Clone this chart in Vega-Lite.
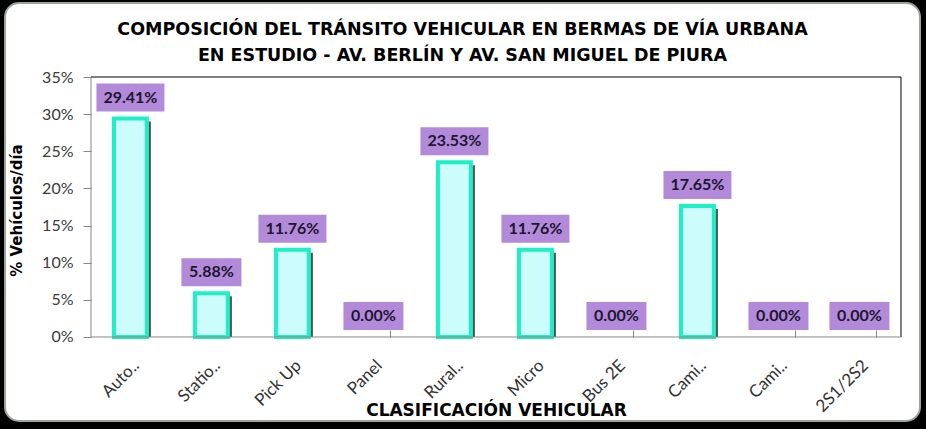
{
  "$schema": "https://vega.github.io/schema/vega-lite/v6.json",
  "width": 915,
  "height": 418,
  "autosize": {"type": "none"},
  "padding": {"left": 5, "top": 3, "right": 6, "bottom": 8},
  "background": "#000000",
  "config": {
    "view": {"fill": "#ffffff", "stroke": "#9ba39b", "strokeWidth": 2, "cornerRadius": 14},
    "font": "Lato"
  },
  "title": {
    "text": [
      "COMPOSICIÓN DEL TRÁNSITO VEHICULAR EN BERMAS DE VÍA URBANA",
      "EN ESTUDIO - AV. BERLÍN Y AV. SAN MIGUEL DE PIURA"
    ],
    "font": "DejaVu Sans",
    "fontSize": 17.5,
    "fontWeight": "bold",
    "color": "#000000",
    "lineHeight": 26,
    "anchor": "middle",
    "baseline": "top",
    "offset": -61
  },
  "data": {
    "values": [
      {"clase": "Automóvil", "pct": 0.2941},
      {"clase": "Station Wagon", "pct": 0.0588},
      {"clase": "Pick Up", "pct": 0.1176},
      {"clase": "Panel", "pct": 0},
      {"clase": "Rural Combi", "pct": 0.2353},
      {"clase": "Micro", "pct": 0.1176},
      {"clase": "Bus 2E", "pct": 0},
      {"clase": "Camión 2E", "pct": 0.1765},
      {"clase": "Camión 3E", "pct": 0},
      {"clase": "2S1/2S2", "pct": 0}
    ]
  },
  "layer": [
    {
      "encoding": {
        "x": {
          "field": "clase",
          "type": "nominal",
          "sort": null,
          "scale": {
            "domain": ["Automóvil", "Station Wagon", "Pick Up", "Panel", "Rural Combi", "Micro", "Bus 2E", "Camión 2E", "Camión 3E", "2S1/2S2"],
            "paddingInner": 0.593,
            "paddingOuter": 0.9445,
            "align": 0.712
          },
          "axis": {
            "offset": -84,
            "domain": false,
            "tickBand": "extent",
            "tickSize": -7,
            "tickColor": "#868686",
            "labelAngle": -45,
            "labelAlign": "right",
            "labelBaseline": "top",
            "labelPadding": 27,
            "labelFont": "Lato",
            "labelFontSize": 17,
            "labelColor": "#333333",
            "labelExpr": "datum.label == 'Automóvil' ? 'Auto..' : datum.label == 'Station Wagon' ? 'Statio..' : datum.label == 'Rural Combi' ? 'Rural..' : indexof(datum.label, 'Camión') == 0 ? 'Cami..' : datum.label",
            "title": "CLASIFICACIÓN VEHICULAR",
            "titleFont": "DejaVu Sans",
            "titleFontSize": 17,
            "titleFontWeight": "bold",
            "titleColor": "#000000",
            "titleX": 491,
            "titleY": 73,
            "titleAlign": "center",
            "titleBaseline": "middle"
          }
        },
        "y": {
          "field": "pct",
          "type": "quantitative",
          "stack": null,
          "scale": {"domain": [-0.11308, 0.44962], "nice": false, "zero": false},
          "axis": {
            "orient": "left",
            "offset": -86,
            "values": [0, 0.05, 0.1, 0.15, 0.2, 0.25, 0.3, 0.35],
            "format": ".0%",
            "domain": false,
            "grid": false,
            "tickColor": "#868686",
            "tickSize": 8,
            "labelPadding": 10,
            "labelFont": "Lato",
            "labelFontSize": 16,
            "labelColor": "#3a3a3a",
            "title": "% Vehículos/día",
            "titleFont": "DejaVu Sans",
            "titleFontSize": 15,
            "titleFontWeight": "bold",
            "titleColor": "#000000",
            "titleX": -75,
            "titleY": 207,
            "titleAngle": -90,
            "titleAlign": "center",
            "titleBaseline": "middle"
          }
        }
      },
      "layer": [
        {
          "transform": [{"filter": "datum.pct > 0"}],
          "mark": {"type": "bar", "color": "#1a1a1a", "opacity": 0.75, "xOffset": 4, "yOffset": 3, "y2Offset": 0}
        },
        {
          "transform": [{"filter": "datum.pct > 0"}],
          "mark": {"type": "bar", "fill": "#ccfcfc", "stroke": "#1ef0c6", "strokeWidth": 4}
        },
        {
          "transform": [{"filter": "datum.pct >= 0.1"}],
          "mark": {
            "type": "point",
            "shape": "M-1,-0.4118L1,-0.4118L1,0.4118L-1,0.4118Z",
            "size": 4624,
            "filled": true,
            "opacity": 1,
            "color": "#b28ad9",
            "yOffset": -21
          }
        },
        {
          "transform": [{"filter": "datum.pct < 0.1"}],
          "mark": {
            "type": "point",
            "shape": "M-1,-0.4667L1,-0.4667L1,0.4667L-1,0.4667Z",
            "size": 3600,
            "filled": true,
            "opacity": 1,
            "color": "#b28ad9",
            "yOffset": -21
          }
        },
        {
          "mark": {
            "type": "text",
            "font": "Lato",
            "fontSize": 16,
            "fontWeight": "bold",
            "color": "#1c1630",
            "baseline": "middle",
            "dy": -21
          },
          "encoding": {"text": {"field": "pct", "type": "quantitative", "format": ".2%"}}
        }
      ]
    },
    {
      "data": {"values": [{}]},
      "layer": [
        {
          "mark": {"type": "rule", "color": "#000000", "strokeWidth": 1},
          "encoding": {
            "x": {"datum": 0, "type": "quantitative", "scale": {"domain": [-1.0617, 10.2346], "nice": false, "zero": false}, "axis": null},
            "x2": {"datum": 10},
            "y": {"datum": 0.35}
          }
        },
        {
          "mark": {"type": "rule", "color": "#000000", "strokeWidth": 1},
          "encoding": {
            "x": {"datum": 10, "type": "quantitative", "scale": {"domain": [-1.0617, 10.2346], "nice": false, "zero": false}, "axis": null},
            "y": {"datum": 0},
            "y2": {"datum": 0.35}
          }
        },
        {
          "mark": {"type": "rule", "color": "#868686", "strokeWidth": 1},
          "encoding": {
            "x": {"datum": 0, "type": "quantitative", "scale": {"domain": [-1.0617, 10.2346], "nice": false, "zero": false}, "axis": null},
            "y": {"datum": 0},
            "y2": {"datum": 0.35}
          }
        },
        {
          "mark": {"type": "rule", "color": "#868686", "strokeWidth": 1},
          "encoding": {
            "x": {"datum": 0, "type": "quantitative", "scale": {"domain": [-1.0617, 10.2346], "nice": false, "zero": false}, "axis": null},
            "x2": {"datum": 10},
            "y": {"datum": 0}
          }
        }
      ]
    }
  ],
  "resolve": {"scale": {"x": "independent"}, "axis": {"x": "independent"}}
}
